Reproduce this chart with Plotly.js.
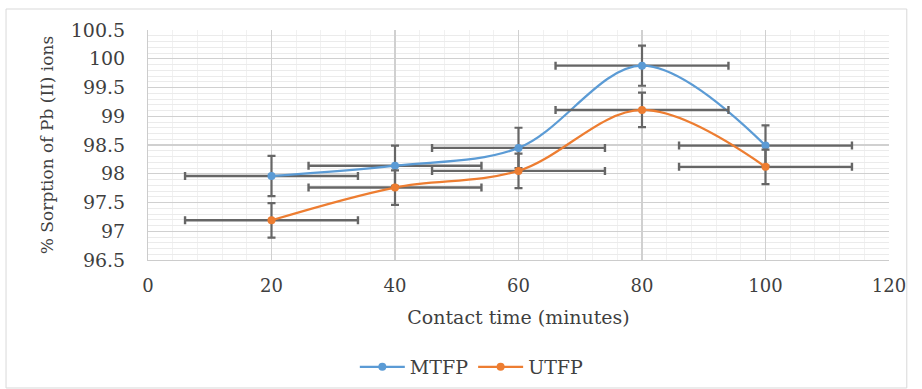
<!DOCTYPE html>
<html>
<head>
<meta charset="utf-8">
<script src="https://cdn.plot.ly/plotly-3.0.1.min.js"></script>
<style>
html,body{margin:0;padding:0;background:#fff;}
#chart{width:922px;height:389px;}
</style>
</head>
<body>
<div id="chart"></div>
<script>
var contactTime = [20, 40, 60, 80, 100];
var mtfp = [97.96, 98.14, 98.45, 99.88, 98.49];
var utfp = [97.19, 97.76, 98.05, 99.11, 98.12];
var mtfpYErr = [0.35, 0.35, 0.35, 0.35, 0.35];
var utfpYErr = [0.3, 0.3, 0.3, 0.3, 0.3];
var xErr = [14, 14, 14, 14, 14];
var xTicks = [0, 20, 40, 60, 80, 100, 120];
var yTicks = [96.5, 97, 97.5, 98, 98.5, 99, 99.5, 100, 100.5];

var errColor = '#666666';
function trace(name, y, yerr, color) {
  return {
    x: contactTime, y: y, name: name, type: 'scatter', mode: 'lines+markers',
    line: {color: color, width: 2.2, shape: 'spline', smoothing: 1},
    marker: {color: color, size: 8, symbol: 'circle'},
    error_y: {type: 'data', array: yerr, visible: true, color: errColor, thickness: 2.2, width: 4},
    error_x: {type: 'data', array: xErr, visible: true, color: errColor, thickness: 2.4, width: 4}
  };
}

var data = [
  trace('MTFP', mtfp, mtfpYErr, '#5b9bd5'),
  trace('UTFP', utfp, utfpYErr, '#ed7d31')
];

var fam = 'DejaVu Serif, serif';
var txtColor = '#3f3f3f';

var layout = {
  width: 922, height: 389,
  margin: {l: 148, r: 33, t: 30, b: 129, autoexpand: false},
  paper_bgcolor: '#fff', plot_bgcolor: '#fff',
  font: {family: fam, color: txtColor},
  showlegend: true,
  legend: {orientation: 'h', x: 0.437, xanchor: 'center', y: -0.465, yanchor: 'middle',
           font: {family: fam, size: 19, color: txtColor}, itemwidth: 45, tracegroupgap: 0},
  xaxis: {
    range: [0, 120], tickvals: xTicks, ticktext: xTicks.map(String),
    showgrid: true, gridcolor: '#d0d0d0', gridwidth: 1.5,
    minor: {dtick: 4, showgrid: true, gridcolor: '#f1f1f1', gridwidth: 1},
    zeroline: false, showline: true, linecolor: '#cccccc', linewidth: 1.2,
    ticks: '', ticklabelstandoff: 9, automargin: false,
    tickfont: {family: fam, size: 18, color: txtColor},
    title: {text: 'Contact time (minutes)', font: {family: fam, size: 19, color: txtColor}, standoff: 16}
  },
  yaxis: {
    range: [96.5, 100.5], tickvals: yTicks, ticktext: yTicks.map(String),
    showgrid: true, gridcolor: '#d0d0d0', gridwidth: 1.2,
    minor: {dtick: 0.1, showgrid: true, gridcolor: '#ebebeb', gridwidth: 1},
    zeroline: false, showline: true, linecolor: '#cccccc', linewidth: 1,
    ticks: '', ticklabelstandoff: 18, automargin: false,
    tickfont: {family: fam, size: 19, color: txtColor},
    title: {text: '% Sorption of Pb (II) ions', font: {family: fam, size: 17, color: txtColor}, standoff: 12}
  },
  shapes: [{
    type: 'rect', xref: 'paper', yref: 'paper',
    x0: -0.1916, x1: 1.024, y0: -0.5565, y1: 1.0913,
    line: {color: '#d9d9d9', width: 1}, fillcolor: 'rgba(0,0,0,0)', layer: 'below'
  }]
};

Plotly.newPlot('chart', data, layout, {displayModeBar: false, staticPlot: true});
</script>
</body>
</html>
